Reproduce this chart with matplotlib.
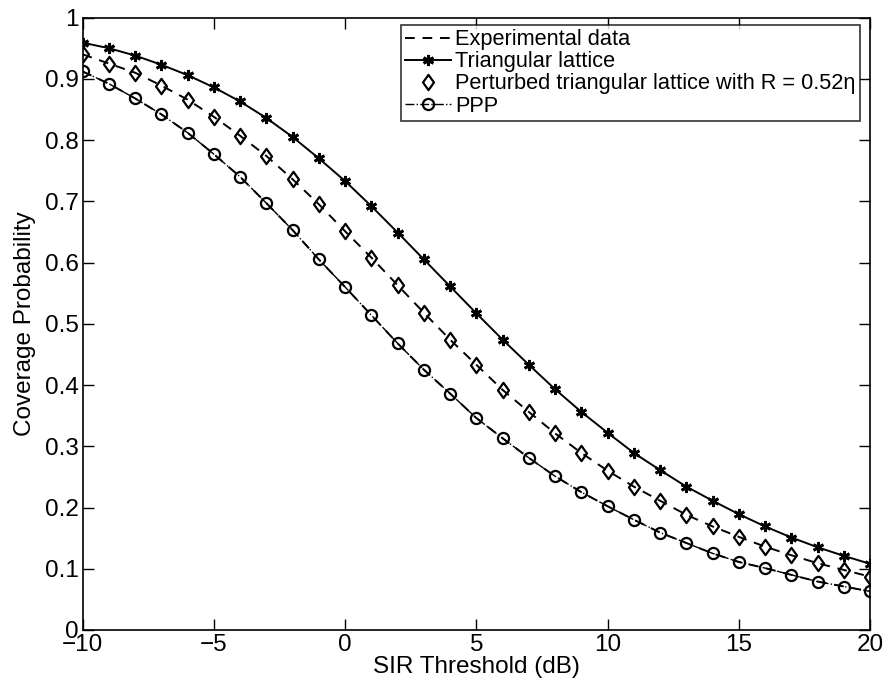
import matplotlib
matplotlib.use("Agg")
import matplotlib.pyplot as plt
from matplotlib.ticker import FuncFormatter
from matplotlib.path import Path

plt.rcParams['font.family'] = ['Liberation Sans', 'DejaVu Sans']

sir_db = list(range(-10, 21))

triangular = [0.959, 0.950, 0.938, 0.923, 0.906, 0.886, 0.863, 0.836, 0.805,
              0.770, 0.733, 0.692, 0.649, 0.605, 0.561, 0.517, 0.474, 0.433,
              0.393, 0.356, 0.322, 0.289, 0.261, 0.234, 0.211, 0.189, 0.169,
              0.151, 0.135, 0.121, 0.108]

perturbed = [0.940, 0.925, 0.910, 0.889, 0.866, 0.838, 0.807, 0.774, 0.736,
             0.695, 0.651, 0.608, 0.563, 0.518, 0.474, 0.433, 0.392, 0.356,
             0.321, 0.289, 0.260, 0.234, 0.211, 0.188, 0.169, 0.152, 0.136,
             0.122, 0.109, 0.098, 0.087]

ppp = [0.912, 0.892, 0.868, 0.842, 0.812, 0.777, 0.740, 0.697, 0.653,
       0.605, 0.560, 0.514, 0.468, 0.425, 0.386, 0.346, 0.313, 0.281,
       0.251, 0.225, 0.202, 0.180, 0.159, 0.142, 0.125, 0.111, 0.101,
       0.090, 0.079, 0.071, 0.063]

# experimental curves follow the perturbed lattice and PPP points
exp_perturbed = perturbed
exp_ppp = ppp

# MATLAB-like diamond (a bit wider than matplotlib's thin 'd')
diamond = Path([(0, 1), (0.72, 0), (0, -1), (-0.72, 0), (0, 1)],
               [Path.MOVETO, Path.LINETO, Path.LINETO, Path.LINETO, Path.CLOSEPOLY])

fig = plt.figure(figsize=(8.88, 6.92), dpi=100)
ax = fig.add_axes([0.093, 0.0896, 0.887, 0.885])

ax.plot(sir_db, exp_perturbed, color='k', ls=(0, (5, 4)), lw=1.4,
        label='Experimental data')
ax.plot(sir_db, exp_ppp, color='k', ls=(0, (5, 4)), lw=1.4)
ax.plot(sir_db, triangular, color='k', ls='-', lw=1.4, marker=(6, 2, 0),
        ms=8, mew=2.0, label='Triangular lattice')
ax.plot(sir_db, perturbed, color='k', ls='none', marker=diamond, ms=11,
        mfc='none', mew=1.6, label='Perturbed triangular lattice with R = 0.52η')
ax.plot(sir_db, ppp, color='k', ls='-.', lw=1.0, marker='o', ms=8,
        mfc='none', mew=1.6, label='PPP')

ax.set_xlim(-10, 20)
ax.set_ylim(0, 1)
ax.set_xticks(range(-10, 21, 5))
ax.set_yticks([i / 10 for i in range(11)])
ax.yaxis.set_major_formatter(FuncFormatter(lambda v, p: '%g' % round(v, 1)))
ax.xaxis.set_major_formatter(FuncFormatter(lambda v, p: ('%d' % v).replace('-', '\u2212')))
ax.tick_params(direction='in', top=True, right=True, length=8, width=1,
               labelsize=17.5, pad=3)
for s in ax.spines.values():
    s.set_linewidth(1.2)

ax.set_xlabel('SIR Threshold (dB)', fontsize=17.5, labelpad=0)
ax.set_ylabel('Coverage Probability', fontsize=17.5, labelpad=6)

leg = ax.legend(loc='upper right', bbox_to_anchor=(0.987, 0.988),
                fontsize=15.7, frameon=True, fancybox=False,
                edgecolor='k', borderpad=0.2, labelspacing=0.05,
                handlelength=2.1, handletextpad=0.2, borderaxespad=0)
leg.get_frame().set_linewidth(1.2)

fig.savefig('out.png', dpi=100)
